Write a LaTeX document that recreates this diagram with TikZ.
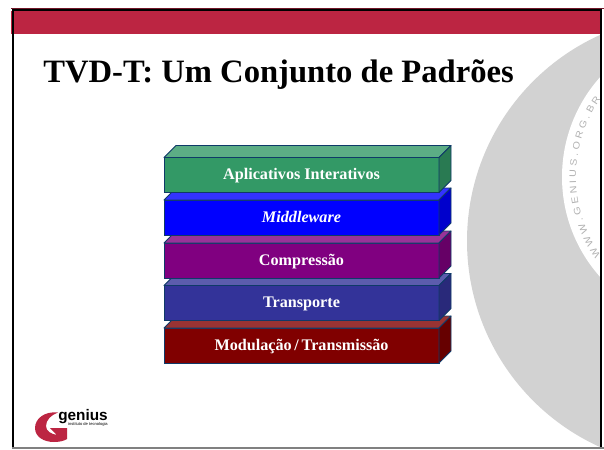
\documentclass[tikz,border=0pt]{standalone}
\usepackage{fontspec}
\setmainfont{Liberation Serif}
\setsansfont{Liberation Sans}
\newfontfamily\wideurl[FakeStretch=1.15]{Liberation Sans}
\usetikzlibrary{decorations.text}
\definecolor{bandred}{HTML}{BC2542}
\definecolor{discgray}{HTML}{D2D2D2}
\definecolor{edgeblue}{HTML}{0F3A68}
\definecolor{layergreen}{HTML}{339966}
\definecolor{layerblue}{HTML}{0000FF}
\definecolor{layerpurple}{HTML}{800080}
\definecolor{layernavy}{HTML}{333399}
\definecolor{layermaroon}{HTML}{800000}
\tikzstyle{layer} = [draw=edgeblue, line width=0.6pt, minimum width=6.875cm, minimum height=0.875cm, inner sep=0pt, outer sep=0pt, text=white, text height=9pt, text depth=2pt, font=\fontsize{11.5}{12}\selectfont\bfseries]
\tikzstyle{face} = [draw=edgeblue, line width=0.6pt, line join=round]
\begin{document}
\begin{tikzpicture}[x=0.025cm,y=-0.025cm]
			\useasboundingbox (0,0) rectangle (604,449);
			\begin{scope}
				\clip (13,9) rectangle (600,447);
				\fill[discgray] (693,241) circle (226);
				\fill[white] (712,177) circle (150);
				\path[decorate,decoration={text along path,text align=center,
					text={|\wideurl\fontsize{6.6}{8}\selectfont\color{discgray!85!black}|W W W . G E N I U S . O R G . B R}}]
					(712,177) ++(142:136) arc (142:218:136);
			\end{scope}
			\fill[bandred] (11,11) rectangle (601,34);
			\draw[bandred!60!black,line width=0.7pt] (11,8.5) -- (604,8.5);
			\draw[line width=1.4pt] (13,448) -- (13,10) -- (601,10) -- (601,447);
			\draw[gray,line width=1.4pt] (12,448) -- (604,448);
			\node[anchor=base west,inner sep=0pt,font=\fontsize{23.2}{28}\selectfont\bfseries] (title) at (43,82.5) {TVD-T: Um Conjunto de Padrões};
			% stack is drawn upwards so each block hides the top of the one below
			\foreach \name/\ypos/\col/\lab in {
				modulation/345.5/layermaroon/{Modulação\,/\,Transmissão},
				transport/303/layernavy/Transporte,
				compression/260.5/layerpurple/Compressão,
				middleware/217.5/layerblue/\textit{Middleware},
				apps/175/layergreen/Aplicativos Interativos}{
				\node[layer,fill=\col] (\name) at (301.5,\ypos) {\lab};
				\draw[face,fill=\col!80!white] (\name.north west) -- ++(12,-12) -- ++(275,0) -- (\name.north east) -- cycle;
				\draw[face,fill=\col!80!black] (\name.north east) -- ++(12,-12) -- ++(0,35) -- (\name.south east) -- cycle;
			}
			% logo
			\fill[bandred] (58,412.5) .. controls (44,411) and (35,419) .. (35,428) .. controls (35,437) and (44,442) .. (54,442) .. controls (59,442) and (64,441) .. (67,439) -- (67,428) -- (50,428) -- (57,435) .. controls (51,434) and (46,431) .. (46,426) .. controls (46,420) and (51,415) .. (58,412.5);
			\node[anchor=base west,inner sep=0pt,font=\sffamily\bfseries\fontsize{10.9}{12}\selectfont] (genius) at (58,420) {genius};
			\node[anchor=west,inner sep=0pt,font=\sffamily\fontsize{2.9}{3}\selectfont] (instituto) at (68,424.5) {instituto de tecnologia};
		\end{tikzpicture}
\end{document}
